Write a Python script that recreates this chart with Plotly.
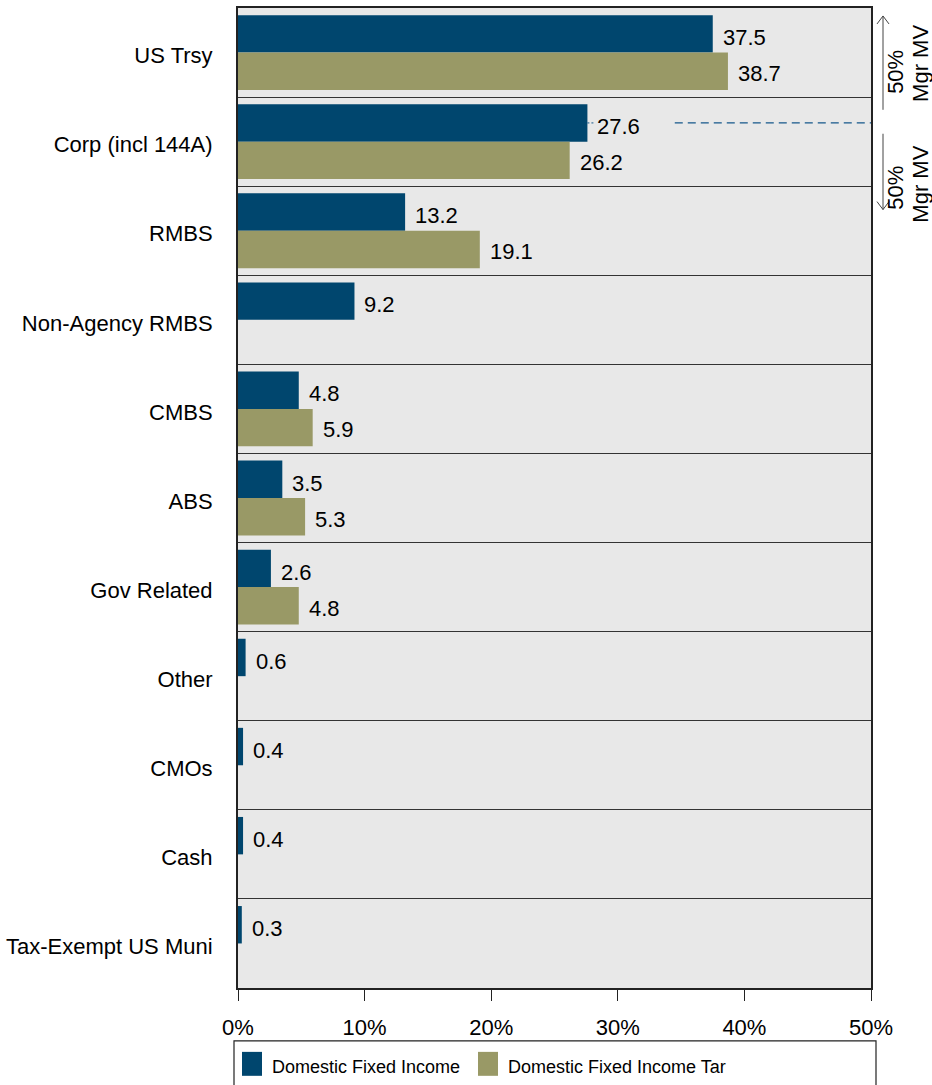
import plotly.graph_objects as go

categories = ["US Trsy", "Corp (incl 144A)", "RMBS", "Non-Agency RMBS", "CMBS", "ABS",
              "Gov Related", "Other", "CMOs", "Cash", "Tax-Exempt US Muni"]
dfi = [37.5, 27.6, 13.2, 9.2, 4.8, 3.5, 2.6, 0.6, 0.4, 0.4, 0.3]
dfi_tar = [38.7, 26.2, 19.1, None, 5.9, 5.3, 4.8, None, None, None, None]
series_names = ["Domestic Fixed Income", "Domestic Fixed Income Tar"]
x_ticks = [0, 10, 20, 30, 40, 50]
x_tick_labels = ["0%", "10%", "20%", "30%", "40%", "50%"]
side_pct = "50%"
side_mv = "Mgr MV"

NAVY = "#00466e"
TAN = "#999966"
FONT = "Liberation Sans, Arial, sans-serif"

W, H = 932, 1085
L, R, T, B = 238, 61, 6, 97
PW, PH = W - L - R, H - T - B


def px(xp):
    return (xp - L) / PW


def py(yp):
    return (H - B - yp) / PH


fig = go.Figure()
fig.add_trace(go.Bar(y=categories, x=dfi, orientation="h", name=series_names[0],
                     marker=dict(color=NAVY, line=dict(width=0)), showlegend=False))
fig.add_trace(go.Bar(y=categories, x=dfi_tar, orientation="h", name=series_names[1],
                     marker=dict(color=TAN, line=dict(width=0)), showlegend=False))

annotations = []
for c, v in zip(categories, dfi):
    annotations.append(dict(x=v, y=c, xref="x", yref="y", text=f"{v:.1f}", showarrow=False,
                            xanchor="left", yanchor="middle", xshift=8, yshift=15,
                            font=dict(size=22, color="black", family=FONT)))
for c, v in zip(categories, dfi_tar):
    if v is None:
        continue
    annotations.append(dict(x=v, y=c, xref="x", yref="y", text=f"{v:.1f}", showarrow=False,
                            xanchor="left", yanchor="middle", xshift=8, yshift=-21,
                            font=dict(size=22, color="black", family=FONT)))

# right-side "50% / Mgr MV" labels
for (yp_pct, yp_mv) in [(70, 62), (186, 183)]:
    annotations.append(dict(x=px(896), y=py(yp_pct), xref="paper", yref="paper", text=side_pct,
                            textangle=-90, showarrow=False, xanchor="center", yanchor="middle",
                            font=dict(size=22, color="black", family=FONT)))
    annotations.append(dict(x=px(921), y=py(yp_mv), xref="paper", yref="paper", text=side_mv,
                            textangle=-90, showarrow=False, xanchor="center", yanchor="middle",
                            font=dict(size=22, color="black", family=FONT)))

# manual legend texts
annotations.append(dict(x=px(270), y=py(1067), xref="paper", yref="paper", text=series_names[0],
                        showarrow=False, xanchor="left", yanchor="middle",
                        font=dict(size=18, color="black", family=FONT)))
annotations.append(dict(x=px(506), y=py(1067), xref="paper", yref="paper", text=series_names[1],
                        showarrow=False, xanchor="left", yanchor="middle",
                        font=dict(size=18, color="black", family=FONT)))

shapes = []
# dashed reference line next to Corp
navy_y = 1 - 0.21
shapes.append(dict(type="line", xref="x", yref="y", x0=34.5, x1=50, y0=navy_y, y1=navy_y,
                   line=dict(color="#14578a", width=1.2, dash="8px,5px")))
shapes.append(dict(type="line", xref="x", yref="y", xsizemode="pixel", xanchor=dfi[1],
                   x0=0, x1=8, y0=navy_y, y1=navy_y,
                   line=dict(color="#14578a", width=1, dash="2px,2px")))
# arrows on the right
ac = "#444444"
for (ya, yb, tip) in [(14, 108, "up"), (132, 208, "down")]:
    shapes.append(dict(type="line", xref="paper", yref="paper", x0=px(883), x1=px(883),
                       y0=py(ya), y1=py(yb), line=dict(color=ac, width=1)))
    ty = ya if tip == "up" else yb
    d = 8 if tip == "up" else -8
    shapes.append(dict(type="line", xref="paper", yref="paper", x0=px(877), x1=px(883),
                       y0=py(ty + d), y1=py(ty), line=dict(color=ac, width=1)))
    shapes.append(dict(type="line", xref="paper", yref="paper", x0=px(889), x1=px(883),
                       y0=py(ty + d), y1=py(ty), line=dict(color=ac, width=1)))
# manual legend box and swatches
shapes.append(dict(type="rect", xref="paper", yref="paper", x0=px(234), x1=px(876),
                   y0=py(1100), y1=py(1041), line=dict(color="#222222", width=1.2),
                   fillcolor="rgba(0,0,0,0)"))
shapes.append(dict(type="rect", xref="paper", yref="paper", x0=px(242), x1=px(262),
                   y0=py(1076), y1=py(1052), line=dict(width=0), fillcolor=NAVY))
shapes.append(dict(type="rect", xref="paper", yref="paper", x0=px(478), x1=px(498),
                   y0=py(1076), y1=py(1052), line=dict(width=0), fillcolor=TAN))

fig.update_layout(
    width=W, height=H,
    margin=dict(l=L, r=R, t=T, b=B, pad=0),
    paper_bgcolor="white", plot_bgcolor="#e8e8e8",
    barmode="group", bargap=0.16, bargroupgap=0,
    font=dict(family=FONT, size=22, color="black"),
    annotations=annotations, shapes=shapes,
    showlegend=False,
)
fig.update_xaxes(range=[0, 50], tickvals=x_ticks, ticktext=x_tick_labels, showgrid=False,
                 zeroline=False, showline=True, linecolor="#222222", linewidth=1.5, mirror=True,
                 ticks="outside", ticklen=11, tickcolor="#222222", tickwidth=1,
                 ticklabelstandoff=8,
                 tickfont=dict(size=22, color="black", family=FONT))
fig.update_yaxes(autorange="reversed", tickson="boundaries", showgrid=True, gridcolor="#333333",
                 gridwidth=1, ticks="", showline=True, linecolor="#222222", linewidth=2, mirror=True,
                 ticklabelstandoff=19, ticklabelshift=-3,
                 tickfont=dict(size=22, color="black", family=FONT))

fig.write_html("out.html", config={"displayModeBar": False},
               post_script="document.body.style.margin='0';"
               "document.body.style.padding='0';")
